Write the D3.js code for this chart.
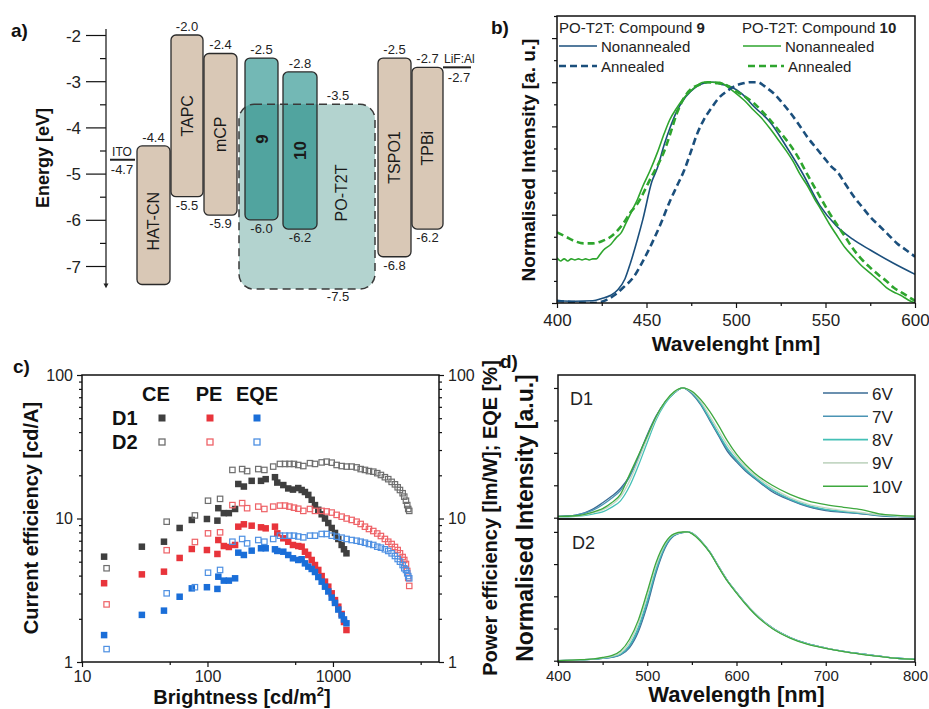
<!DOCTYPE html>
<html>
<head>
<meta charset="utf-8">
<script src="https://cdn.jsdelivr.net/npm/d3@7"></script>
<style>
  html, body { margin: 0; padding: 0; background: #fff; }
  svg { display: block; }
</style>
</head>
<body>
<svg id="fig" width="929" height="709"></svg>
<script>
// ---------------- a) energy level diagram ----------------
const energyTicks = [-2, -3, -4, -5, -6, -7];
const layerNames = ["HAT-CN", "TAPC", "mCP", "9", "10", "TSPO1", "TPBi"];
const layerLUMO  = [-4.4, -2.0, -2.4, -2.5, -2.8, -2.5, -2.7];
const layerHOMO  = [-7.4, -5.5, -5.9, -6.0, -6.2, -6.8, -6.2];
const layerKind  = ["tan", "tan", "tan", "emitter", "emitter", "tan", "tan"];
const hostName = "PO-T2T";
const hostLevels = [-3.5, -7.5];
const electrodeNames = ["ITO", "LiF:Al"];
const electrodeLevels = [-4.7, -2.7];

// ---------------- b) PL spectra ----------------
const plTicks = [400, 450, 500, 550, 600];
const pl9Non = [[400,0.01],[410,0.008],[420,0.01],[425,0.02],[430,0.035],[434,0.06],[438,0.11],[441,0.18],[445,0.29],[448,0.38],[453,0.55],[456,0.61],[460,0.72],[463,0.79],[467,0.87],[472,0.935],[477,0.975],[482,0.995],[487,1.0],[492,0.99],[497,0.98],[503,0.95],[510,0.89],[519,0.82],[528,0.71],[537,0.59],[547,0.44],[556,0.35],[565,0.29],[575,0.24],[588,0.18],[600,0.13]];
const pl9Ann = [[400,0.01],[405,0.006],[410,0.004],[415,0.002],[420,0.0],[424,0.004],[428,0.015],[432,0.035],[437,0.07],[443,0.12],[448,0.19],[453,0.27],[458,0.36],[463,0.46],[467,0.53],[471,0.60],[475,0.69],[478,0.76],[482,0.83],[486,0.88],[490,0.925],[495,0.96],[500,0.985],[504,0.995],[508,1.0],[512,1.0],[517,0.975],[521,0.95],[526,0.905],[530,0.865],[535,0.81],[540,0.75],[545,0.70],[549,0.66],[553,0.62],[557,0.59],[561,0.54],[566,0.48],[570,0.44],[575,0.39],[580,0.35],[585,0.31],[590,0.27],[595,0.24],[600,0.21]];
const pl10Non = [[400,0.205],[402,0.19],[404,0.2],[406,0.19],[408,0.2],[410,0.195],[412,0.2],[414,0.195],[416,0.2],[418,0.195],[420,0.2],[422,0.2],[424,0.22],[426,0.24],[430,0.265],[433,0.295],[436,0.32],[439,0.37],[442,0.42],[445,0.47],[448,0.53],[452,0.6],[456,0.68],[460,0.77],[463,0.83],[467,0.885],[470,0.92],[476,0.97],[482,1.0],[486,1.0],[491,1.0],[495,0.98],[500,0.95],[505,0.915],[509,0.88],[514,0.84],[519,0.79],[524,0.735],[528,0.69],[532,0.64],[536,0.58],[540,0.53],[544,0.47],[547,0.43],[552,0.36],[556,0.31],[561,0.25],[566,0.205],[570,0.17],[575,0.135],[580,0.1],[584,0.07],[588,0.05],[592,0.035],[596,0.015],[600,0.0]];
const pl10Ann = [[400,0.32],[405,0.30],[410,0.28],[415,0.27],[420,0.27],[425,0.28],[430,0.30],[434,0.33],[437,0.36],[441,0.41],[445,0.45],[449,0.51],[452,0.56],[456,0.62],[460,0.69],[463,0.76],[467,0.86],[471,0.93],[475,0.97],[480,0.99],[484,1.0],[490,0.995],[495,0.985],[500,0.96],[505,0.935],[510,0.905],[515,0.865],[519,0.83],[524,0.78],[528,0.74],[534,0.67],[540,0.58],[547,0.48],[552,0.41],[556,0.36],[561,0.3],[565,0.25],[570,0.2],[575,0.16],[580,0.125],[584,0.10],[588,0.07],[592,0.05],[596,0.03],[600,0.01]];

// ---------------- c) device efficiencies ----------------
const brightTicks = [10, 100, 1000];
const effTicks = [1, 10, 100];
const brightD1 = [15,30,45,60,75,99,120,122,135,148,166,176,195,225,267,291,345,360,402,440,480,529,563,598,636,677,719,764,813,864,918,977,1038,1103,1173,1224,1281];
const ceD1  = [5.42,6.36,6.89,8.59,9.77,9.92,9.66,11.8,10.9,10.9,11.65,17.4,16.7,18.3,18.3,18.8,19.4,17.8,17.1,16.2,15.9,16.3,15.8,15.3,14.6,13.5,12.4,11.5,10.7,10.0,9.30,8.59,7.93,7.20,6.54,6.10,5.72];
const peD1  = [3.54,4.08,4.26,5.31,6.13,6.03,5.66,7.08,6.43,6.33,6.54,8.77,9.11,8.91,8.68,8.54,8.77,7.88,7.28,6.89,6.54,6.43,6.36,5.87,5.57,5.14,4.74,4.38,3.97,3.63,3.35,3.01,2.70,2.43,2.16,1.90,1.67];
const eqeD1 = [1.54,2.13,2.28,2.85,3.26,3.32,3.23,3.93,3.69,3.69,3.83,5.78,5.57,5.97,6.20,6.20,6.10,5.94,5.87,5.57,5.28,5.14,5.20,4.87,4.62,4.45,4.24,3.91,3.63,3.35,3.10,2.81,2.58,2.32,2.11,1.98,1.86];
const brightD2 = [15.7,47.3,79.4,101,126,158,189,207,254,284,334,378,415,450,489,529,580,656,719,813,891,977,1070,1173,1285,1409,1544,1663,1799,1936,2096,2254,2411,2593,2758,2936,3119,3279,3420,3592,3700,3817,3908,3981,4055];
const ceD2  = [4.50,9.50,10.5,13.3,13.7,21.8,22.1,21.4,22.1,21.8,23.0,24.0,24.0,24.0,24.0,23.6,23.2,24.3,24.0,24.6,24.9,24.5,23.6,23.2,23.0,23.0,22.7,22.1,21.8,21.4,21.2,20.7,20.1,19.4,18.8,18.0,17.3,16.5,15.8,15.0,14.2,13.3,12.4,11.65,11.3];
const peD2  = [2.52,6.01,6.86,7.88,8.01,12.4,12.8,11.8,12.1,11.65,12.1,12.3,12.3,12.1,11.9,11.7,11.3,11.65,11.3,11.3,11.2,11.0,10.6,10.3,10.0,9.77,9.50,9.16,8.77,8.45,8.18,7.86,7.55,7.20,6.89,6.64,6.33,6.03,5.72,5.39,5.14,4.82,4.31,3.85,3.39];
const eqeD2 = [1.23,3.01,3.32,4.19,4.38,6.89,7.20,6.71,7.08,6.89,7.20,7.59,7.59,7.59,7.59,7.49,7.39,7.59,7.59,7.80,7.80,7.59,7.47,7.35,7.20,7.08,7.00,6.89,6.78,6.64,6.54,6.36,6.26,6.10,5.94,5.72,5.48,5.22,5.00,4.74,4.50,4.38,4.15,3.97,3.83];

// ---------------- d) EL spectra at different voltages ----------------
const elTicks = [400, 500, 600, 700, 800];
const voltages = ["6V", "7V", "8V", "9V", "10V"];
const elWavelength = [400,420,440,450,460,470,480,490,500,510,520,530,540,545,550,560,570,580,590,600,610,620,640,660,680,700,720,740,760,780,800];
const elD1 = [
  [0.01,0.02,0.07,0.115,0.165,0.225,0.32,0.47,0.64,0.785,0.89,0.96,1.0,0.985,0.955,0.87,0.75,0.63,0.51,0.43,0.36,0.305,0.20,0.135,0.085,0.055,0.042,0.03,0.015,0.008,0.005],
  [0.01,0.02,0.06,0.10,0.15,0.21,0.31,0.46,0.63,0.78,0.89,0.96,1.0,0.986,0.962,0.88,0.76,0.64,0.525,0.44,0.37,0.31,0.21,0.14,0.09,0.06,0.045,0.032,0.018,0.01,0.006],
  [0.005,0.01,0.03,0.045,0.08,0.13,0.24,0.40,0.58,0.755,0.88,0.96,1.0,0.988,0.965,0.88,0.765,0.645,0.535,0.45,0.375,0.315,0.215,0.145,0.095,0.065,0.048,0.035,0.02,0.012,0.007],
  [0.005,0.012,0.04,0.06,0.10,0.16,0.28,0.44,0.61,0.77,0.89,0.965,1.0,0.99,0.97,0.895,0.785,0.67,0.56,0.47,0.39,0.33,0.23,0.155,0.105,0.075,0.055,0.04,0.022,0.013,0.008],
  [0.01,0.015,0.045,0.07,0.115,0.18,0.33,0.48,0.63,0.78,0.895,0.97,1.0,0.992,0.975,0.91,0.82,0.71,0.59,0.49,0.41,0.345,0.25,0.18,0.13,0.10,0.08,0.062,0.03,0.018,0.012]
];
const elD2 = [
  [0,0.005,0.012,0.018,0.026,0.045,0.10,0.225,0.43,0.685,0.875,0.97,0.995,1.0,0.99,0.93,0.845,0.73,0.62,0.53,0.445,0.37,0.255,0.18,0.13,0.098,0.072,0.052,0.035,0.019,0.01],
  [0,0.005,0.012,0.019,0.028,0.048,0.11,0.24,0.45,0.70,0.885,0.973,0.996,1.0,0.99,0.93,0.845,0.73,0.62,0.53,0.445,0.37,0.255,0.18,0.13,0.098,0.072,0.052,0.035,0.019,0.01],
  [0,0.005,0.013,0.02,0.03,0.052,0.12,0.26,0.47,0.715,0.893,0.976,0.997,1.0,0.99,0.93,0.845,0.73,0.62,0.53,0.445,0.37,0.255,0.18,0.13,0.098,0.072,0.052,0.035,0.019,0.01],
  [0,0.006,0.014,0.022,0.034,0.06,0.14,0.29,0.505,0.74,0.905,0.98,0.998,1.0,0.988,0.928,0.843,0.728,0.618,0.528,0.443,0.368,0.253,0.178,0.128,0.097,0.071,0.051,0.034,0.018,0.01],
  [0,0.006,0.015,0.025,0.04,0.075,0.165,0.315,0.535,0.765,0.915,0.985,0.999,1.0,0.986,0.925,0.84,0.725,0.615,0.525,0.44,0.365,0.25,0.176,0.127,0.096,0.07,0.05,0.033,0.018,0.01]
];

// ================= drawing =================
const FONT = '"Liberation Sans", Arial, Helvetica, sans-serif';
const INK = "#222";
const svg = d3.select("#fig").attr("font-family", FONT);

function label(g, x, y, s, o = {}) {
  const t = g.append("text").attr("x", x).attr("y", y)
    .attr("font-size", o.size || 13)
    .attr("fill", o.fill || INK)
    .attr("text-anchor", o.anchor || "start");
  if (o.bold) t.attr("font-weight", "bold");
  if (o.rotate) t.attr("transform", `rotate(${o.rotate},${x},${y})`);
  if (s !== null) t.text(s);
  return t;
}
function styleAxis(g, size) {
  g.attr("font-family", FONT).attr("font-size", size || 15);
  g.selectAll(".domain").remove();
  g.selectAll(".tick line").attr("stroke", "#111").attr("stroke-width", 1.2);
  g.selectAll(".tick text").attr("fill", INK);
}
const fmt = d => String(d);

// ---------- panel a ----------
{
  const g = svg.append("g");
  const yE = d3.scaleLinear().domain([-2, -7]).range([35, 266]);
  const axisX = 106;
  // slot layout of the layer boxes
  const slotX = [137, 171, 204, 245, 283, 378, 412];
  const slotW = [33, 32, 33, 33, 34, 33, 31];

  label(g, 11, 37, "a)", {size: 19, bold: true, fill: "#111"});
  label(g, 49, 158, "Energy [eV]", {size: 18, bold: true, anchor: "middle", rotate: -90, fill: "#111"});

  const ax = g.append("g").attr("transform", `translate(${axisX},0)`)
    .call(d3.axisLeft(yE).tickValues(energyTicks).tickSize(20).tickPadding(5).tickFormat(fmt));
  styleAxis(ax, 17);
  ax.selectAll(".tick text").attr("dy", "0.36em");
  const axm = g.append("g").attr("transform", `translate(${axisX},0)`)
    .call(d3.axisLeft(yE).tickValues(d3.range(-2.5, -7, -1)).tickSize(6).tickFormat(""));
  styleAxis(axm);
  g.append("line").attr("x1", axisX).attr("x2", axisX)
    .attr("y1", yE(-1.87)).attr("y2", yE(-7.42)).attr("stroke", "#222").attr("stroke-width", 1.3);
  g.append("path").attr("d", `M${axisX - 2.5},${yE(-7.38)} L${axisX},${yE(-7.48)} L${axisX + 2.5},${yE(-7.38)} Z`)
    .attr("fill", "#222");

  // electrodes
  const elecX = [[110, 135], [443, 471]];
  electrodeLevels.forEach((e, i) => {
    const [x1, x2] = elecX[i];
    g.append("line").attr("x1", x1).attr("x2", x2).attr("y1", yE(e)).attr("y2", yE(e))
      .attr("stroke", "#222").attr("stroke-width", 2);
  });
  label(g, 122, yE(electrodeLevels[0]) - 4, electrodeNames[0], {size: 12, anchor: "middle"});
  label(g, 122, yE(electrodeLevels[0]) + 14, electrodeLevels[0].toFixed(1), {size: 13, anchor: "middle"});
  label(g, 444, yE(electrodeLevels[1]) - 4, electrodeNames[1], {size: 12});
  label(g, 459, yE(electrodeLevels[1]) + 15, electrodeLevels[1].toFixed(1), {size: 13, anchor: "middle"});

  // transport layers (tan)
  layerNames.forEach((n, i) => {
    if (layerKind[i] !== "tan") return;
    g.append("rect").attr("x", slotX[i]).attr("width", slotW[i])
      .attr("y", yE(layerLUMO[i])).attr("height", yE(layerHOMO[i]) - yE(layerLUMO[i]))
      .attr("rx", 5).attr("fill", "#d9c8b6").attr("stroke", "#2a2a2a").attr("stroke-width", 1.3);
  });

  // host region fill
  const hx = 239, hw = 136;
  g.append("rect").attr("x", hx).attr("width", hw)
    .attr("y", yE(hostLevels[0])).attr("height", yE(hostLevels[1]) - yE(hostLevels[0]))
    .attr("rx", 15).attr("fill", "#b3d3cf");

  // emitters (translucent over host)
  layerNames.forEach((n, i) => {
    if (layerKind[i] !== "emitter") return;
    g.append("rect").attr("x", slotX[i]).attr("width", slotW[i])
      .attr("y", yE(layerLUMO[i])).attr("height", yE(layerHOMO[i]) - yE(layerLUMO[i]))
      .attr("rx", 5).attr("fill", "rgba(0,125,120,0.55)").attr("stroke", "#2a2a2a").attr("stroke-width", 1.3);
  });
  // host dashed outline on top
  g.append("rect").attr("x", hx).attr("width", hw)
    .attr("y", yE(hostLevels[0])).attr("height", yE(hostLevels[1]) - yE(hostLevels[0]))
    .attr("rx", 15).attr("fill", "none").attr("stroke", "#3a3a3a")
    .attr("stroke-width", 1.5).attr("stroke-dasharray", "8,5");

  // level values and names
  layerNames.forEach((n, i) => {
    const cx = slotX[i] + slotW[i] / 2;
    label(g, cx, yE(layerLUMO[i]) - 4, layerLUMO[i].toFixed(1), {size: 13, anchor: "middle"});
    if (i > 0) label(g, cx, yE(layerHOMO[i]) + 13, layerHOMO[i].toFixed(1), {size: 13, anchor: "middle"});
    const cy = (yE(layerLUMO[i]) + yE(layerHOMO[i])) / 2 + (i === 0 ? 6 : 0);
    const emitter = layerKind[i] === "emitter";
    const sz = emitter ? 17 : 16;
    label(g, cx + sz * 0.36, cy, n, {size: sz, bold: emitter, anchor: "middle", rotate: -90, fill: "#1a1a1a"});
  });
  label(g, 338, yE(hostLevels[0]) - 4, hostLevels[0].toFixed(1), {size: 13, anchor: "middle"});
  label(g, 338, yE(hostLevels[1]) + 12, hostLevels[1].toFixed(1), {size: 13, anchor: "middle"});
  label(g, 347, 193, hostName, {size: 16, anchor: "middle", rotate: -90, fill: "#1a1a1a"});
}

// ---------- panel b ----------
{
  const g = svg.append("g");
  const L = 557, R = 915, T = 16, B = 303;
  const x = d3.scaleLinear().domain([400, 600]).range([L, R]);
  const y = d3.scaleLinear().domain([0, 1.3]).range([B, T]);

  label(g, 491, 34, "b)", {size: 19, bold: true, fill: "#111"});
  label(g, 535, 160, "Normalised Intensity [a. u.]", {size: 19, bold: true, anchor: "middle", rotate: -90, fill: "#111"});
  label(g, (L + R) / 2, 351, "Wavelenght [nm]", {size: 21, bold: true, anchor: "middle", fill: "#111"});

  const xa = g.append("g").attr("transform", `translate(0,${B})`)
    .call(d3.axisBottom(x).tickValues(plTicks).tickSize(5).tickPadding(6).tickFormat(fmt));
  styleAxis(xa, 17);
  const xm = g.append("g").attr("transform", `translate(0,${B})`)
    .call(d3.axisBottom(x).tickValues([425, 475, 525, 575]).tickSize(3).tickFormat(""));
  styleAxis(xm);
  const ya = g.append("g").attr("transform", `translate(${L},0)`)
    .call(d3.axisLeft(y).tickValues(d3.range(0, 1.21, 0.2)).tickSize(5).tickFormat(""));
  styleAxis(ya);
  const ym = g.append("g").attr("transform", `translate(${L},0)`)
    .call(d3.axisLeft(y).tickValues(d3.range(0.1, 1.31, 0.2)).tickSize(3).tickFormat(""));
  styleAxis(ym);

  const clip = g.append("clipPath").attr("id", "clipB");
  clip.append("rect").attr("x", L).attr("y", T).attr("width", R - L).attr("height", B - T);
  const line = d3.line().x(d => x(d[0])).y(d => y(d[1])).curve(d3.curveMonotoneX);
  const blue = "#1b4f7c", green = "#2ea52e";
  const series = [
    {d: pl9Non, c: blue, dash: null, w: 1.6},
    {d: pl10Non, c: green, dash: null, w: 1.6},
    {d: pl10Ann, c: green, dash: "7,4", w: 2.6},
    {d: pl9Ann, c: blue, dash: "7,4", w: 2.6}
  ];
  const lg = g.append("g").attr("clip-path", "url(#clipB)");
  series.forEach(s => {
    lg.append("path").attr("d", line(s.d)).attr("fill", "none")
      .attr("stroke", s.c).attr("stroke-width", s.w).attr("stroke-dasharray", s.dash);
  });

  g.append("rect").attr("x", L).attr("y", T).attr("width", R - L).attr("height", B - T)
    .attr("fill", "none").attr("stroke", "#111").attr("stroke-width", 1.5);

  // legend
  const t1 = label(g, 559, 33, null, {size: 15});
  t1.append("tspan").text("PO-T2T: Compound ");
  t1.append("tspan").attr("font-weight", "bold").text("9");
  const t2 = label(g, 742, 33, null, {size: 15});
  t2.append("tspan").text("PO-T2T: Compound ");
  t2.append("tspan").attr("font-weight", "bold").text("10");
  const leg = [
    {x1: 559, x2: 597, y: 46, c: blue, dash: null, w: 1.6, t: "Nonannealed", tx: 601},
    {x1: 743, x2: 781, y: 46, c: green, dash: null, w: 1.6, t: "Nonannealed", tx: 785},
    {x1: 559, x2: 597, y: 66, c: blue, dash: "7,4", w: 2.6, t: "Annealed", tx: 601},
    {x1: 748, x2: 784, y: 66, c: green, dash: "7,4", w: 2.6, t: "Annealed", tx: 788}
  ];
  leg.forEach(l => {
    g.append("line").attr("x1", l.x1).attr("x2", l.x2).attr("y1", l.y).attr("y2", l.y)
      .attr("stroke", l.c).attr("stroke-width", l.w).attr("stroke-dasharray", l.dash);
    label(g, l.tx, l.y + 5.5, l.t, {size: 15});
  });
}

// ---------- panel c ----------
{
  const g = svg.append("g");
  const L = 82, R = 439, T = 375, B = 662;
  const x = d3.scaleLog().domain([10, 7000]).range([L, R]);
  const y = d3.scaleLog().domain([1, 100]).range([B, T]);

  label(g, 13, 373, "c)", {size: 19, bold: true, fill: "#111"});
  label(g, 38, 518, "Current efficiency [cd/A]", {size: 20, bold: true, anchor: "middle", rotate: -90, fill: "#111"});
  const xl = label(g, 242, 704, null, {size: 20, bold: true, anchor: "middle", fill: "#111"});
  xl.append("tspan").text("Brightness [cd/m");
  xl.append("tspan").attr("font-size", 13).attr("dy", -8).text("2");
  xl.append("tspan").attr("dy", 8).text("]");
  label(g, 497, 518, "Power efficiency [lm/W]; EQE [%]", {size: 20, bold: true, anchor: "middle", rotate: -90, fill: "#111"});

  const minorY = [2,3,4,5,6,7,8,9,20,30,40,50,60,70,80,90];
  const xa = g.append("g").attr("transform", `translate(0,${B})`)
    .call(d3.axisBottom(x).tickValues(brightTicks).tickSize(5).tickPadding(4).tickFormat(fmt));
  styleAxis(xa, 16);
  const xm = g.append("g").attr("transform", `translate(0,${B})`)
    .call(d3.axisBottom(x).tickValues([50, 500, 5000]).tickSize(3).tickFormat(""));
  styleAxis(xm);
  const yl = g.append("g").attr("transform", `translate(${L},0)`)
    .call(d3.axisLeft(y).tickValues(effTicks).tickSize(5).tickPadding(4).tickFormat(fmt));
  styleAxis(yl, 16);
  const ylm = g.append("g").attr("transform", `translate(${L},0)`)
    .call(d3.axisLeft(y).tickValues(minorY).tickSize(3).tickFormat(""));
  styleAxis(ylm);
  const yr = g.append("g").attr("transform", `translate(${R},0)`)
    .call(d3.axisRight(y).tickValues(effTicks).tickSize(5).tickPadding(4).tickFormat(fmt));
  styleAxis(yr, 16);
  const yrm = g.append("g").attr("transform", `translate(${R},0)`)
    .call(d3.axisRight(y).tickValues(minorY).tickSize(3).tickFormat(""));
  styleAxis(yrm);

  const colCE = "#3f3f3f", colPE = "#e8343b", colEQE = "#1a6ed8";
  const openCE = "#6e6e6e", openPE = "#ee6267", openEQE = "#4e90e2";
  const series = [
    {b: brightD1, v: ceD1, c: colCE, filled: true},
    {b: brightD1, v: peD1, c: colPE, filled: true},
    {b: brightD1, v: eqeD1, c: colEQE, filled: true},
    {b: brightD2, v: ceD2, c: openCE, filled: false},
    {b: brightD2, v: peD2, c: openPE, filled: false},
    {b: brightD2, v: eqeD2, c: openEQE, filled: false}
  ];
  series.forEach(s => {
    const pts = s.b.map((b, i) => [b, s.v[i]]);
    const sz = s.filled ? 6.5 : 5.4;
    g.append("g").selectAll("rect").data(pts).join("rect")
      .attr("x", d => x(d[0]) - sz / 2).attr("y", d => y(d[1]) - sz / 2)
      .attr("width", sz).attr("height", sz)
      .attr("fill", s.filled ? s.c : "none")
      .attr("stroke", s.filled ? "none" : s.c).attr("stroke-width", 1.2);
  });

  // frame
  g.append("rect").attr("x", L).attr("y", T).attr("width", R - L).attr("height", B - T)
    .attr("fill", "none").attr("stroke", "#111").attr("stroke-width", 1.5);

  // legend
  label(g, 156, 401, "CE", {size: 20, bold: true, anchor: "middle", fill: "#111"});
  label(g, 209, 401, "PE", {size: 20, bold: true, anchor: "middle", fill: "#111"});
  label(g, 257, 401, "EQE", {size: 20, bold: true, anchor: "middle", fill: "#111"});
  label(g, 112, 425, "D1", {size: 20, bold: true, fill: "#111"});
  label(g, 112, 449, "D2", {size: 20, bold: true, fill: "#111"});
  [[162, colCE, openCE], [210, colPE, openPE], [257, colEQE, openEQE]].forEach(([cx, cf, co]) => {
    g.append("rect").attr("x", cx - 3.5).attr("y", 418 - 3.5).attr("width", 7).attr("height", 7).attr("fill", cf);
    g.append("rect").attr("x", cx - 3).attr("y", 442 - 3).attr("width", 6).attr("height", 6)
      .attr("fill", "none").attr("stroke", co).attr("stroke-width", 1.3);
  });
}

// ---------- panel d ----------
{
  const g = svg.append("g");
  const L = 558, R = 915, T = 375, M = 519, B = 662;
  const x = d3.scaleLinear().domain([400, 800]).range([L, R]);
  const y1 = d3.scaleLinear().domain([-0.01, 1.1]).range([M, T]);
  const y2 = d3.scaleLinear().domain([-0.01, 1.1]).range([B, M]);
  const colors = ["#3a6b94", "#4a94b4", "#44c0b6", "#c4d7c4", "#3ea83e"];

  label(g, 500, 368, "d)", {size: 19, bold: true, fill: "#111"});
  label(g, 533, 518, "Normalised Intensity [a.u.]", {size: 23, bold: true, anchor: "middle", rotate: -90, fill: "#111"});
  label(g, (L + R) / 2, 702, "Wavelength [nm]", {size: 22, bold: true, anchor: "middle", fill: "#111"});

  const xa = g.append("g").attr("transform", `translate(0,${B})`)
    .call(d3.axisBottom(x).tickValues(elTicks).tickSize(4).tickPadding(4).tickFormat(fmt));
  styleAxis(xa, 15);
  const xm = g.append("g").attr("transform", `translate(0,${B})`)
    .call(d3.axisBottom(x).tickValues([450, 550, 650, 750]).tickSize(3).tickFormat(""));
  styleAxis(xm);
  [y1, y2].forEach(ys => {
    const a = g.append("g").attr("transform", `translate(${L},0)`)
      .call(d3.axisLeft(ys).tickValues([0, 0.25, 0.5, 0.75, 1.0]).tickSize(4).tickFormat(""));
    styleAxis(a);
  });

  const clip1 = g.append("clipPath").attr("id", "clipD1");
  clip1.append("rect").attr("x", L).attr("y", T).attr("width", R - L).attr("height", M - T);
  const clip2 = g.append("clipPath").attr("id", "clipD2");
  clip2.append("rect").attr("x", L).attr("y", M).attr("width", R - L).attr("height", B - M);

  [[elD1, y1, "url(#clipD1)"], [elD2, y2, "url(#clipD2)"]].forEach(([set, ys, cp]) => {
    const line = d3.line().x((d, i) => x(elWavelength[i])).y(d => ys(d)).curve(d3.curveMonotoneX);
    const lg = g.append("g").attr("clip-path", cp);
    set.forEach((vals, k) => {
      lg.append("path").attr("d", line(vals)).attr("fill", "none")
        .attr("stroke", colors[k]).attr("stroke-width", 1.3);
    });
  });

  g.append("rect").attr("x", L).attr("y", T).attr("width", R - L).attr("height", M - T)
    .attr("fill", "none").attr("stroke", "#111").attr("stroke-width", 1.5);
  g.append("rect").attr("x", L).attr("y", M).attr("width", R - L).attr("height", B - M)
    .attr("fill", "none").attr("stroke", "#111").attr("stroke-width", 1.5);

  label(g, 570, 405, "D1", {size: 18});
  label(g, 572, 549, "D2", {size: 18});

  voltages.forEach((v, k) => {
    const ly = 393 + k * 23.3;
    g.append("line").attr("x1", 823).attr("x2", 868).attr("y1", ly).attr("y2", ly)
      .attr("stroke", colors[k]).attr("stroke-width", 1.6);
    label(g, 872, ly + 6.5, v, {size: 17});
  });
}
</script>
</body>
</html>
